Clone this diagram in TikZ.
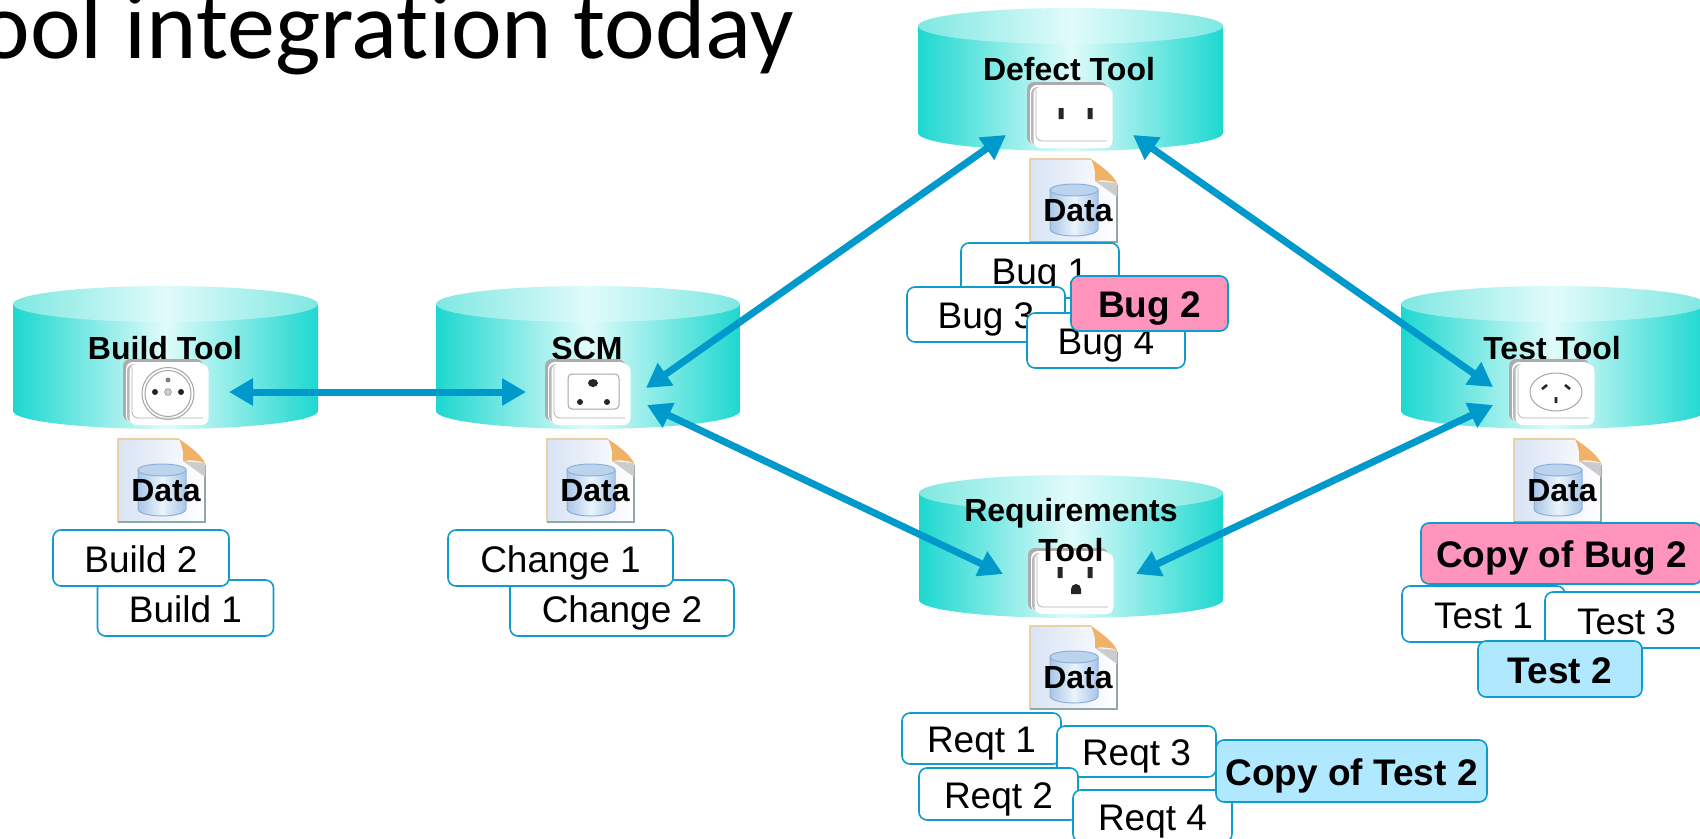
\documentclass[tikz,border=0pt]{standalone}
\usepackage{fontspec}
\setmainfont{Liberation Sans}
\newfontfamily\titlefont[Ligatures=NoCommon]{Carlito}
\usetikzlibrary{arrows.meta}
\definecolor{teal}{HTML}{1DD8D0}
\definecolor{tealtop}{HTML}{7FE8E2}
\definecolor{pale}{HTML}{E0FBFA}
\definecolor{boxline}{HTML}{0F9BCB}
\definecolor{arrowblue}{HTML}{0099CC}
\definecolor{pinkfill}{HTML}{FF95BC}
\definecolor{bluefill}{HTML}{B0E9FF}
\definecolor{docfill}{HTML}{D8E3F4}
\definecolor{docedge}{HTML}{EBCFA8}
\definecolor{docbase}{HTML}{8FA9A6}
\definecolor{foldcol}{HTML}{EFB266}
\definecolor{jaredge}{HTML}{A9C6E8}
\definecolor{jarmid}{HTML}{EAF4FB}
\definecolor{jarline}{HTML}{8DB0DA}
\definecolor{jartop}{HTML}{BCD3EE}
\tikzset{
 x=1pt,y=-1pt,
 toollabel/.style={font=\fontsize{32}{38}\bfseries\selectfont,inner sep=0pt,align=center},
 boxbase/.style={draw=boxline,line width=1.6pt,rounded corners=8pt,inner sep=0pt,anchor=center,
   text height=28pt,text depth=0pt,align=center},
 plainbox/.style={boxbase,fill=white,font=\fontsize{37}{40}\selectfont},
 pinkbox/.style={boxbase,fill=pinkfill,font=\fontsize{37}{40}\bfseries\selectfont},
 bluebox/.style={boxbase,fill=bluefill,font=\fontsize{37}{40}\bfseries\selectfont},
 link/.style={draw=arrowblue,line width=7pt,{Triangle[length=24pt,width=26pt]}-{Triangle[length=24pt,width=26pt]}},
 outlet/.style={fill=white,draw=none,rounded corners=7pt,inner sep=0pt,minimum width=79pt,minimum height=61pt},
 hole/.style={fill=black!85,draw=none},
}
% tool drum: x1, x2, y of top ellipse centre, y of bottom ellipse centre
\newcommand{\drum}[4]{%
 \path[left color=teal,right color=teal,middle color=pale]
   (#1,#3) -- (#1,#4) arc[start angle=180,end angle=360,x radius={(#2-#1)/2*1pt},y radius=18pt] -- (#2,#3) -- cycle;
 \path[left color=tealtop,right color=tealtop,middle color=pale]
   ({(#1+#2)/2},#3) ellipse[x radius={(#2-#1)/2*1pt},y radius=18pt];
}
% socket plate: node name, left, top
\newcommand{\plate}[3]{%
 \fill[gray!65,rounded corners=7pt] (#2,#3) rectangle ++(80,62);
 \fill[white,rounded corners=7pt] (#2+3,#3+3) rectangle ++(79,61);
 \fill[gray!55,rounded corners=7pt] (#2+4,#3+5) rectangle ++(78,59);
 \node[outlet] (#1) at (#2+46,#3+35.5) {};
 \draw[gray!60,line width=.8pt,rounded corners=6pt] (#2+9,#3+8) -- (#2+9,#3+59) -- (#2+80,#3+59);
}
% data document icon: node name, left, top
\newcommand{\dataicon}[3]{%
 \begin{scope}[shift={(#2,#3)}]
  \path[left color=docfill,right color=white] (0,0) -- (61,0) -- (87,24) -- (87,83) -- (0,83) -- cycle;
  \draw[docedge,line width=1.4pt] (0,83) -- (0,0) -- (61,0);
  \draw[docbase,line width=1.6pt] (0,83) -- (87,83) -- (87,26);
  \fill[gray!40] (65,22) -- (87,24) -- (87,38) -- cycle;
  \fill[foldcol] (61,0) .. controls (73,8) and (83,16) .. (87,24) .. controls (79,21) and (71,21) .. (65,22) .. controls (66,14) and (64,6) .. (61,0) -- cycle;
  \path[left color=jaredge,right color=jaredge,middle color=jarmid,draw=jarline,line width=1pt]
    (20,31) -- (20,70) arc[start angle=180,end angle=360,x radius=24pt,y radius=7pt] -- (68,31) -- cycle;
  \path[fill=jartop,draw=jarline,line width=1pt] (44,31) ellipse[x radius=24pt,y radius=6pt];
 \end{scope}
 \node[toollabel] (#1) at (#2+48,#3+51.5) {Data};
}
\begin{document}
\begin{tikzpicture}
\clip (0,0) rectangle (1700,838);
\fill[white] (0,0) rectangle (1700,838);

% title
\node[font=\titlefont\fontsize{96}{110}\selectfont,anchor=base east,inner sep=0pt] (title) at (794,58) {ool integration today};

% drums
\drum{13}{318}{304}{411}
\drum{436}{740}{304}{411}
\drum{918}{1223}{26}{133}
\drum{1401}{1705}{304}{411}
\drum{919}{1223}{493}{600}

% labels
\node[toollabel] (buildlabel) at (165,348) {Build Tool};
\node[toollabel] (scmlabel) at (587,348) {SCM};
\node[toollabel] (defectlabel) at (1069,69) {Defect Tool};
\node[toollabel] (testlabel) at (1552,348) {Test Tool};

% sockets
\plate{buildsock}{123}{359}
\draw[gray!70,line width=1pt] (buildsock.center) ++(-1,-1) circle[radius=26pt];
\draw[gray!70,line width=1pt] (buildsock.center) ++(-1,-1) circle[radius=23pt];
\fill[black!85] (155,392) circle[radius=3pt] (181,392) circle[radius=3pt];
\fill[gray] (168,380) circle[radius=2.5pt];
\draw[gray,fill=gray!40] (168,392) circle[radius=3.5pt];

\plate{scmsock}{545}{359}
\draw[gray!70,line width=1pt,rounded corners=4pt] (568,374) rectangle (619,409);
\fill[hole] (593,383) ellipse[x radius=5pt,y radius=4pt] (580,402) circle[radius=3pt] (607,402) circle[radius=3pt];

\plate{defectsock}{1027}{82}
\fill[hole] (1058.5,108) rectangle ++(5,11) (1087.5,108) rectangle ++(5,11);

\plate{testsock}{1509}{359}
\draw[gray!70,line width=1pt] (1556,392) ellipse[x radius=26pt,y radius=19pt];
\draw[black!85,line width=2.6pt] (1542,389) -- (1547,385) (1570,389) -- (1565,385) (1556,397) -- (1556,403);

\plate{reqsock}{1028}{548}
\fill[hole] (1057.5,567) rectangle ++(5,11) (1087.5,567) rectangle ++(5,11)
  (1071,594) -- (1071,589) arc[start angle=180,end angle=0,radius=5pt] -- (1081,594) -- cycle;

\node[toollabel] (reqlabel) at (1071,530) {Requirements\\[2pt]Tool};

% data icons
\dataicon{builddata}{118}{439}
\dataicon{scmdata}{547}{439}
\dataicon{defectdata}{1030}{159}
\dataicon{testdata}{1514}{439}
\dataicon{reqdata}{1030}{626}

% record boxes
\node[plainbox,minimum width=176pt,minimum height=56pt] (build1) at (185.5,608) {Build 1};
\node[plainbox,minimum width=176pt,minimum height=56pt] (build2) at (141,558) {Build 2};
\node[plainbox,minimum width=224pt,minimum height=56pt] (change2) at (622,608) {Change 2};
\node[plainbox,minimum width=225pt,minimum height=56pt] (change1) at (560.5,558) {Change 1};

\node[plainbox,minimum width=158pt,minimum height=55pt] (bug1) at (1040,270.5) {Bug 1};
\node[plainbox,minimum width=158pt,minimum height=55pt] (bug3) at (986,314.5) {Bug 3};
\node[plainbox,minimum width=158pt,minimum height=55pt] (bug4) at (1106,340.5) {Bug 4};
\node[pinkbox,minimum width=157pt,minimum height=55pt] (bug2) at (1149.5,303.5) {Bug 2};

\node[plainbox,minimum width=163pt,minimum height=56pt] (test1) at (1483.5,614) {Test 1};
\node[pinkbox,minimum width=281pt,minimum height=61pt] (copybug) at (1561.5,553.5) {Copy of Bug 2};
\node[plainbox,minimum width=163pt,minimum height=56pt] (test3) at (1626.5,620) {Test 3};
\node[bluebox,minimum width=164pt,minimum height=56pt] (test2) at (1560,669) {Test 2};

\node[plainbox,minimum width=159pt,minimum height=51pt] (reqt1) at (981.5,738.5) {Reqt 1};
\node[plainbox,minimum width=159pt,minimum height=51pt] (reqt3) at (1136.5,751.5) {Reqt 3};
\node[plainbox,minimum width=159pt,minimum height=52pt] (reqt2) at (998.5,794) {Reqt 2};
\node[plainbox,minimum width=159pt,minimum height=52pt] (reqt4) at (1152.5,816) {Reqt 4};
\node[bluebox,minimum width=271pt,minimum height=62pt] (copytest) at (1351.5,771) {Copy of Test 2};

% connector ends beside the sockets
\coordinate (buildR) at (229,392);
\coordinate (scmL) at (526,392);
\coordinate (scmUp) at (646,388);
\coordinate (scmDown) at (647,405);
\coordinate (defectL) at (1006,135);
\coordinate (defectR) at (1133,135);
\coordinate (testUp) at (1493,387);
\coordinate (testDown) at (1493,405);
\coordinate (reqL) at (1003,574);
\coordinate (reqR) at (1136,574);

\draw[link] (buildR) -- (scmL);
\draw[link] (scmUp) -- (defectL);
\draw[link] (scmDown) -- (reqL);
\draw[link] (defectR) -- (testUp);
\draw[link] (reqR) -- (testDown);
\end{tikzpicture}
\end{document}
